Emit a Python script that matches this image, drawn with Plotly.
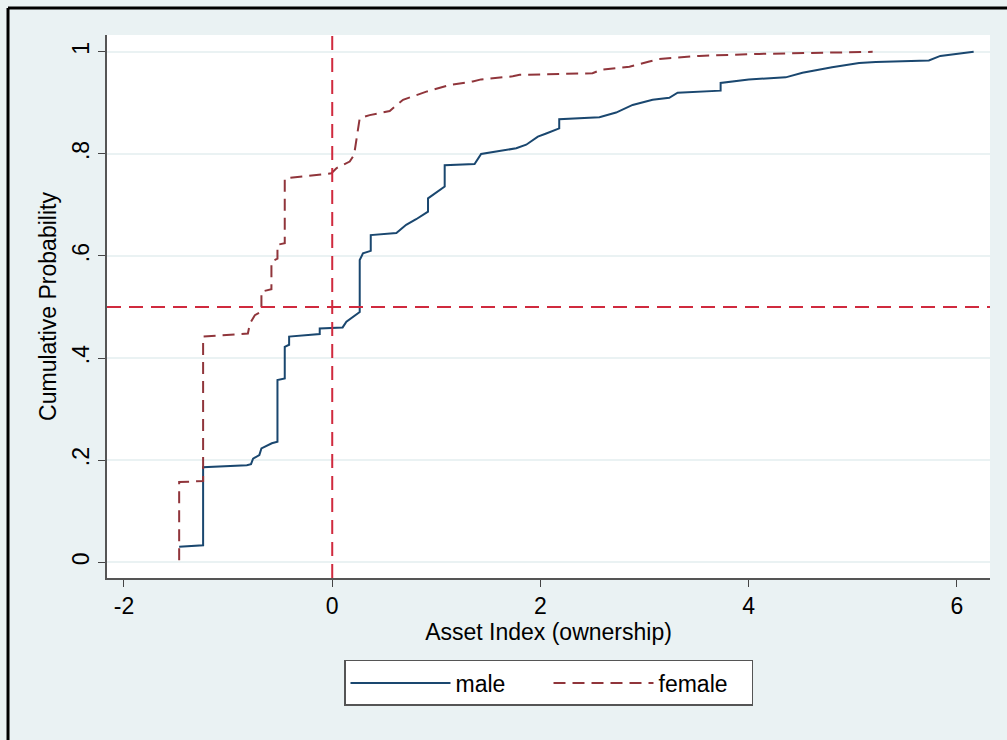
import plotly.graph_objects as go

# Male CDF vertices (Asset Index, cumulative probability)
male_x = [-1.47, -1.24, -1.24, -0.82, -0.78, -0.76, -0.70, -0.68, -0.58, -0.526, -0.526, -0.456, -0.456,
          -0.414, -0.414, -0.12, -0.12, 0.10, 0.136, 0.216, 0.264, 0.264, 0.295, 0.37, 0.37,
          0.616, 0.71, 0.806, 0.92, 0.92, 1.015, 1.08, 1.08, 1.367, 1.43, 1.767, 1.863, 1.975,
          2.055, 2.18, 2.18, 2.566, 2.726, 2.885, 3.077, 3.237, 3.317, 3.73, 3.73, 4.0, 4.355,
          4.516, 4.80, 5.06, 5.22, 5.73, 5.84, 6.02, 6.16]
male_y = [0.030, 0.033, 0.186, 0.190, 0.192, 0.203, 0.210, 0.223, 0.233, 0.236, 0.357, 0.360, 0.422,
          0.426, 0.442, 0.447, 0.458, 0.460, 0.471, 0.484, 0.490, 0.592, 0.605, 0.610, 0.641,
          0.645, 0.661, 0.672, 0.687, 0.713, 0.726, 0.736, 0.778, 0.780, 0.800, 0.811, 0.818, 0.834,
          0.840, 0.850, 0.868, 0.872, 0.881, 0.896, 0.906, 0.910, 0.920, 0.924, 0.939, 0.946, 0.950,
          0.959, 0.970, 0.978, 0.980, 0.983, 0.992, 0.996, 1.000]

# Female CDF vertices
female_x = [-1.47, -1.47, -1.24, -1.24, -0.81, -0.79, -0.743, -0.68, -0.68, -0.584, -0.584, -0.526,
            -0.526, -0.456, -0.456, -0.008, 0.04, 0.168, 0.21, 0.232, 0.264, 0.36, 0.552, 0.68,
            0.904, 1.127, 1.35, 1.43, 1.734, 1.8, 2.5, 2.58, 2.854, 3.045, 3.14, 3.525, 4.1, 5.19]
female_y = [0.004, 0.157, 0.159, 0.442, 0.448, 0.468, 0.484, 0.491, 0.530, 0.535, 0.589, 0.595,
            0.622, 0.625, 0.752, 0.762, 0.772, 0.785, 0.798, 0.827, 0.870, 0.876, 0.884, 0.906,
            0.922, 0.935, 0.942, 0.946, 0.952, 0.955, 0.958, 0.965, 0.971, 0.981, 0.986, 0.992, 0.996, 1.000]

x_ticks = [-2, 0, 2, 4, 6]
x_ticktext = ["-2", "0", "2", "4", "6"]
y_ticks = [0, 0.2, 0.4, 0.6, 0.8, 1]
y_ticktext = ["0", ".2", ".4", ".6", ".8", "1"]
ref_x = 0
ref_y = 0.5

FONT = "Liberation Sans, Arial, Helvetica, sans-serif"
BG = "#eaf2f3"

fig = go.Figure()
fig.add_trace(go.Scatter(x=male_x, y=male_y, mode="lines", name="male",
                         line=dict(color="#1a476f", width=2)))
fig.add_trace(go.Scatter(x=female_x, y=female_y, mode="lines", name="female",
                         line=dict(color="#90353b", width=2, dash="12px,7px")))

fig.add_shape(type="line", xref="x", yref="paper", x0=ref_x, x1=ref_x, y0=0, y1=1,
              line=dict(color="#d02a3e", width=2, dash="14px,8px"))
fig.add_shape(type="line", xref="paper", yref="y", x0=0, x1=1, y0=ref_y, y1=ref_y,
              line=dict(color="#d02a3e", width=2, dash="14px,8px"))

# outer frame (top and left edges of the picture)
fig.add_shape(type="line", xref="paper", yref="paper", x0=-0.1121, x1=1.03, y0=1.0497, y1=1.0497,
              line=dict(color="black", width=3))
fig.add_shape(type="line", xref="paper", yref="paper", x0=-0.1121, x1=-0.1121, y0=-0.31, y1=1.0497,
              line=dict(color="black", width=3))

fig.update_layout(
    width=1007, height=740,
    margin=dict(l=107, r=17, t=35, b=162),
    paper_bgcolor=BG, plot_bgcolor="white",
    font=dict(family=FONT, size=22, color="black"),
    showlegend=True,
    legend=dict(orientation="h", x=0.5, xanchor="center", y=-0.151, yanchor="top",
                bgcolor="white", bordercolor="#555", borderwidth=1.5,
                entrywidth=88, itemwidth=100,
                font=dict(size=23, family=FONT)),
    xaxis=dict(range=[-2.163, 6.317], tickvals=x_ticks, ticktext=x_ticktext,
               ticks="outside", ticklen=7,
               tickcolor="#444", showline=True, linecolor="#555", linewidth=1.5,
               showgrid=False, zeroline=False, tickfont=dict(size=23),
               title=dict(text="Asset Index (ownership)", font=dict(size=23), standoff=6)),
    yaxis=dict(range=[-0.031, 1.033], tickvals=y_ticks, ticktext=y_ticktext, tickangle=-90,
               ticks="outside", ticklen=7, tickcolor="#444", showline=True, linecolor="#555",
               linewidth=1.5, showgrid=True, gridcolor=BG, gridwidth=1.5, zeroline=False,
               tickfont=dict(size=23),
               title=dict(text="Cumulative Probability", font=dict(size=23), standoff=5)),
)

fig.write_html("out.html", config={"displayModeBar": False},
               post_script="document.body.style.margin='0px';")
